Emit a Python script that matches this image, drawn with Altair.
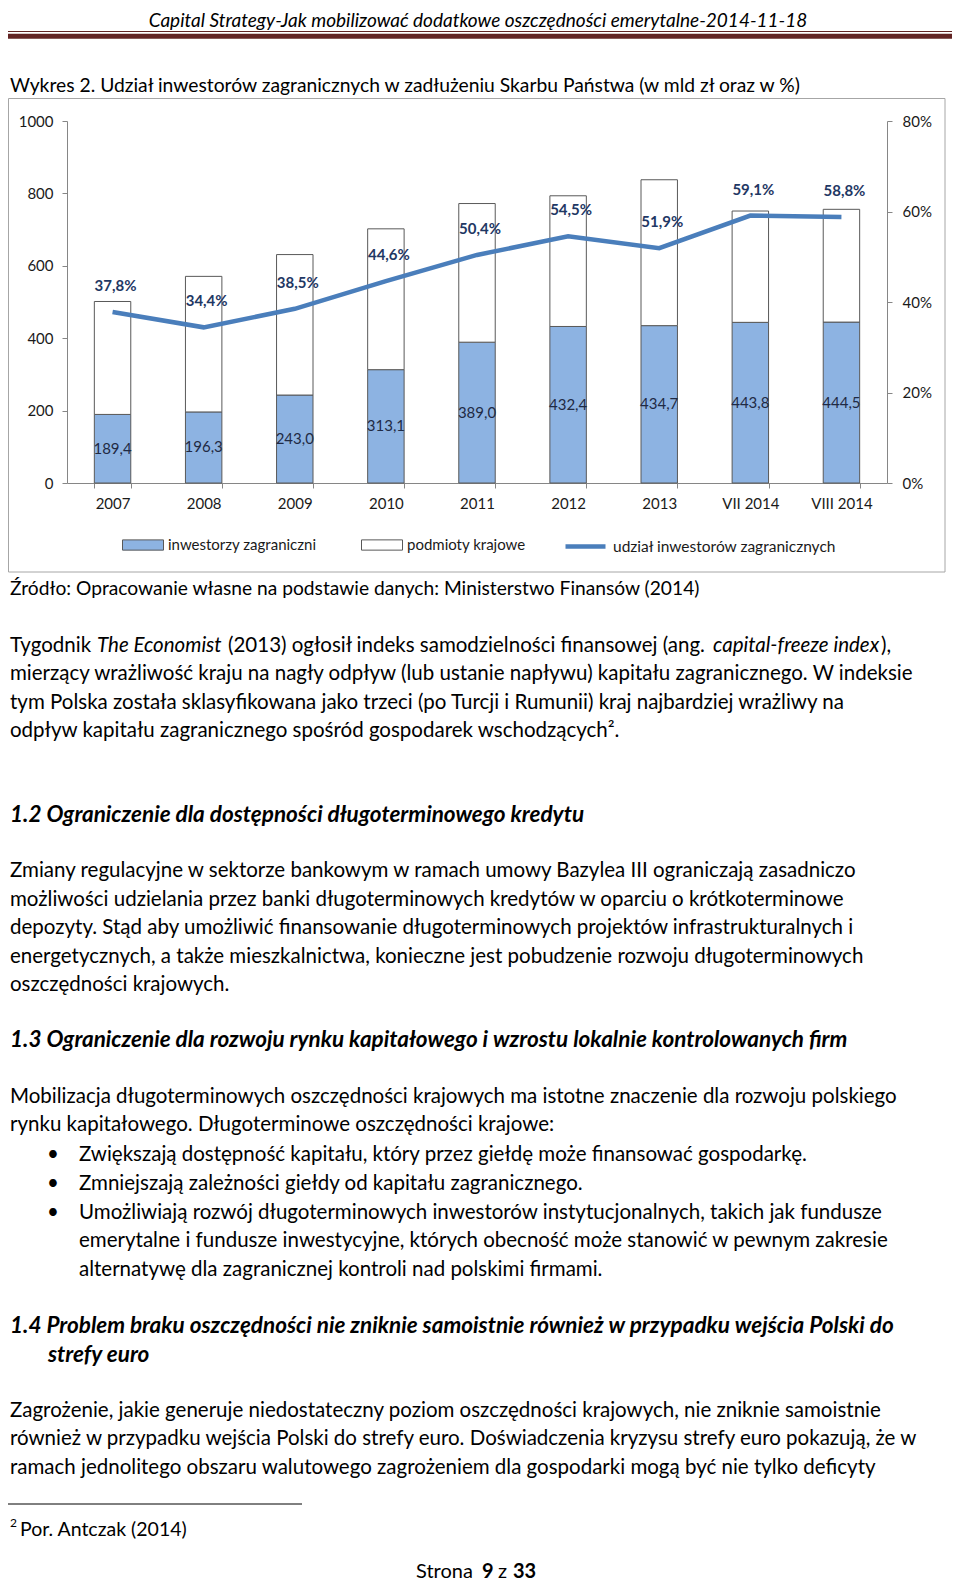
import altair as alt
import pandas as pd

# ---------------- data ----------------
years = ["2007", "2008", "2009", "2010", "2011", "2012", "2013", "VII 2014", "VIII 2014"]
foreign = [189.4, 196.3, 243.0, 313.1, 389.0, 432.4, 434.7, 443.8, 444.5]
domestic = [312.0, 374.5, 388.0, 389.0, 383.0, 361.0, 403.0, 307.5, 311.5]
share = [37.8, 34.4, 38.5, 44.6, 50.4, 54.5, 51.9, 59.1, 58.8]
series = ["inwestorzy zagraniczni", "podmioty krajowe"]
line_name = "udział inwestorów zagranicznych"
left_ticks = [0, 200, 400, 600, 800, 1000]
right_ticks = [0, 20, 40, 60, 80]

header_text = "Capital Strategy-Jak mobilizować dodatkowe oszczędności emerytalne-2014-11-18"
chart_title = "Wykres 2. Udział inwestorów zagranicznych w zadłużeniu Skarbu Państwa (w mld zł oraz w %)"
source_text = "Źródło: Opracowanie własne na podstawie danych: Ministerstwo Finansów (2014)"
p1_line1 = ["Tygodnik", "The Economist", "(2013) ogłosił indeks samodzielności finansowej (ang.",
            "capital-freeze index", "),"]
p1_rest = [
    "mierzący wrażliwość kraju na nagły odpływ (lub ustanie napływu) kapitału zagranicznego. W indeksie",
    "tym Polska została sklasyfikowana jako trzeci (po Turcji i Rumunii) kraj najbardziej wrażliwy na",
    "odpływ kapitału zagranicznego spośród gospodarek wschodzących².",
]
h12 = "1.2  Ograniczenie dla dostępności długoterminowego kredytu"
p2 = [
    "Zmiany regulacyjne w sektorze bankowym w ramach umowy Bazylea III ograniczają zasadniczo",
    "możliwości udzielania przez banki długoterminowych kredytów w oparciu o krótkoterminowe",
    "depozyty. Stąd aby umożliwić finansowanie długoterminowych projektów infrastrukturalnych i",
    "energetycznych, a także mieszkalnictwa, konieczne jest pobudzenie rozwoju długoterminowych",
    "oszczędności krajowych.",
]
h13 = "1.3 Ograniczenie dla rozwoju rynku kapitałowego i wzrostu lokalnie kontrolowanych firm"
p3 = [
    "Mobilizacja długoterminowych oszczędności krajowych ma istotne znaczenie dla rozwoju polskiego",
    "rynku kapitałowego. Długoterminowe oszczędności krajowe:",
]
bullets = [
    "Zwiększają dostępność kapitału, który przez giełdę może finansować gospodarkę.",
    "Zmniejszają zależności giełdy od kapitału zagranicznego.",
    "Umożliwiają rozwój długoterminowych inwestorów instytucjonalnych, takich jak fundusze",
    "emerytalne i fundusze inwestycyjne, których obecność może stanowić w pewnym zakresie",
    "alternatywę dla zagranicznej kontroli nad polskimi firmami.",
]
bullet_marks = ["•", "•", "•"]
h14 = ["1.4 Problem braku oszczędności nie zniknie samoistnie również w przypadku wejścia Polski do",
       "strefy euro"]
p4 = [
    "Zagrożenie, jakie generuje niedostateczny poziom oszczędności krajowych, nie zniknie samoistnie",
    "również w przypadku wejścia Polski do strefy euro. Doświadczenia  kryzysu strefy euro pokazują, że w",
    "ramach jednolitego obszaru walutowego zagrożeniem dla gospodarki mogą być nie tylko deficyty",
]
footnote_mark = "2"
footnote = "Por. Antczak (2014)"
page_parts = ["Strona", "9", "z", "33"]

# ---------------- style ----------------
FONT = "Lato"
BLUE = "#8DB3E2"
LINE = "#4A7EBB"
NAVY = "#1F3864"
AX = "#868686"
MAROON = "#622423"
X0, Y0 = 67, 121  # page position of plot origin
BODY = 20.5
HEAD = 22.5
LH = 28.4
LM = 10  # left margin of text (page px)


def pl(v):
    return f"{v:.1f}".replace(".", ",")


bars_df = pd.DataFrame({
    "year": years * 2,
    "series": [series[0]] * len(years) + [series[1]] * len(years),
    "value": foreign + domestic,
    "k": [0] * len(years) + [1] * len(years),
})
lab_df = pd.DataFrame({"year": years, "foreign": foreign, "label": [pl(v) for v in foreign]})
line_df = pd.DataFrame({"year": years, "share": share, "name": line_name,
                        "label": [pl(v) + "%" for v in share]})

X = alt.X("year:N", sort=years, title=None,
          scale=alt.Scale(paddingInner=0.6, paddingOuter=0.3),
          axis=alt.Axis(labelAngle=0, tickBand="extent", tickSize=5, labelPadding=8,
                        domainColor=AX, tickColor=AX, labelFont=FONT, labelFontSize=15,
                        labelColor="#1a1a1a"))
left_axis = alt.Axis(values=left_ticks, format="d", grid=False, tickSize=5, labelPadding=9,
                     domainColor=AX, tickColor=AX, labelFont=FONT, labelFontSize=15,
                     labelColor="#1a1a1a")
right_axis = alt.Axis(orient="right", values=right_ticks, grid=False, tickSize=5,
                      labelPadding=10, labelExpr="datum.value + '%'", domainColor=AX,
                      tickColor=AX, labelFont=FONT, labelFontSize=15, labelColor="#1a1a1a")

bars = alt.Chart(bars_df).mark_bar(stroke="#595959", strokeWidth=1).encode(
    x=X,
    y=alt.Y("value:Q", stack="zero", title=None,
            scale=alt.Scale(domain=[0, 1000], nice=False), axis=left_axis),
    fill=alt.Fill("series:N", sort=series,
                  scale=alt.Scale(domain=series, range=[BLUE, "#FFFFFF"]),
                  legend=alt.Legend(orient="none", legendX=55, legendY=403,
                                    direction="horizontal", title=None,
                                    symbolType="M-1,-0.25L1,-0.25L1,0.25L-1,0.25Z",
                                    symbolSize=1681, symbolStrokeColor="#595959",
                                    symbolStrokeWidth=1, symbolOpacity=1,
                                    labelFont=FONT, labelFontSize=15,
                                    labelColor="#1a1a1a", labelLimit=400,
                                    columnPadding=42, labelOffset=4)),
    order=alt.Order("k:Q"),
)
bar_labels = alt.Chart(lab_df).transform_calculate(mid="datum.foreign / 2").mark_text(
    font=FONT, fontSize=15, color="#1F2A44"
).encode(
    x=X,
    y=alt.Y("mid:Q", title=None, scale=alt.Scale(domain=[0, 1000], nice=False), axis=left_axis),
    text="label:N",
)

Yr = alt.Y("share:Q", title=None, scale=alt.Scale(domain=[0, 80], nice=False), axis=right_axis)
line = alt.Chart(line_df).mark_line(strokeWidth=4.5).encode(
    x=X, y=Yr,
    stroke=alt.Stroke("name:N", scale=alt.Scale(domain=[line_name], range=[LINE]),
                      legend=alt.Legend(orient="none", legendX=496, legendY=403, title=None,
                                        symbolType="stroke", symbolSize=1600,
                                        symbolStrokeWidth=4.5, labelFont=FONT,
                                        labelFontSize=15.5, labelColor="#1a1a1a",
                                        labelLimit=400, labelOffset=5)),
)
pct_labels = alt.Chart(line_df).mark_text(
    font=FONT, fontSize=15, fontWeight="bold", color=NAVY, dy=-26, dx=3
).encode(x=X, y=Yr, text="label:N")

left = alt.layer(bars, bar_labels)
right = alt.layer(line, pct_labels)

one = alt.Data(values=[{}])


def T(text, x, yc, size=BODY, style="normal", weight="normal", align="left",
      color="#000000", lh=LH):
    return alt.Chart(one).mark_text(
        text=text, align=align, baseline="top", font=FONT, fontSize=size,
        fontStyle=style, fontWeight=weight, color=color, lineHeight=lh
    ).encode(x=alt.value(x - X0), y=alt.value(yc - 0.44 * size - Y0))


def R(x1, x2, y, width=1, color="#000000"):
    return alt.Chart(one).mark_rule(color=color, strokeWidth=width).encode(
        x=alt.value(x1 - X0), x2=alt.value(x2 - X0), y=alt.value(y - Y0))


box = alt.Chart(one).mark_rect(fillOpacity=0, stroke="#A6A6A6", strokeWidth=1).encode(
    x=alt.value(8.5 - X0), x2=alt.value(945 - X0), y=alt.value(98.5 - Y0), y2=alt.value(572 - Y0))

decor = [
    T(header_text, 478, 20.2, size=19, style="italic", align="center"),
    R(8, 952, 31.5, 1, MAROON),
    R(8, 952, 36.3, 5, MAROON),
    T(chart_title, LM, 85, size=19.3),
    T(source_text, LM, 588, size=19.2),
    T(p1_line1[0], LM, 645),
    T(p1_line1[1], 97, 645, style="italic"),
    T(p1_line1[2], 228, 645),
    T(p1_line1[3], 713, 645, style="italic"),
    T(p1_line1[4], 881, 645),
    T(p1_rest, LM, 645 + LH),
    T(h12, LM, 814, size=HEAD, weight="bold", style="italic"),
    T(p2, LM, 870.5),
    T(h13, LM, 1039, size=HEAD, weight="bold", style="italic"),
    T(p3, LM, 1096),
    T(bullet_marks, 47, 1154.5, lh=28.6),
    T(bullets, 79, 1154.5, lh=28.6),
    T(h14[0], LM, 1325, size=HEAD, weight="bold", style="italic"),
    T(h14[1], 48, 1354, size=HEAD, weight="bold", style="italic"),
    T(p4, LM, 1410),
    R(8, 302, 1504, 1),
    T(footnote_mark, LM, 1523, size=12),
    T(footnote, 20, 1530, size=19.5),
    T(page_parts[0], 416, 1571, size=20),
    T(page_parts[1], 482, 1571, size=20, weight="bold"),
    T(page_parts[2], 498, 1571, size=20),
    T(page_parts[3], 513, 1571, size=20, weight="bold"),
]

chart = alt.layer(box, left, right, *decor).resolve_scale(y="independent").properties(
    width=820, height=362,
    autosize=alt.AutoSizeParams(type="none"),
    padding={"left": 59, "top": 113, "right": 65, "bottom": 1101},
    background="white",
).configure_view(stroke=None)

chart.save("out.html", embed_options={"renderer": "svg", "actions": False})
